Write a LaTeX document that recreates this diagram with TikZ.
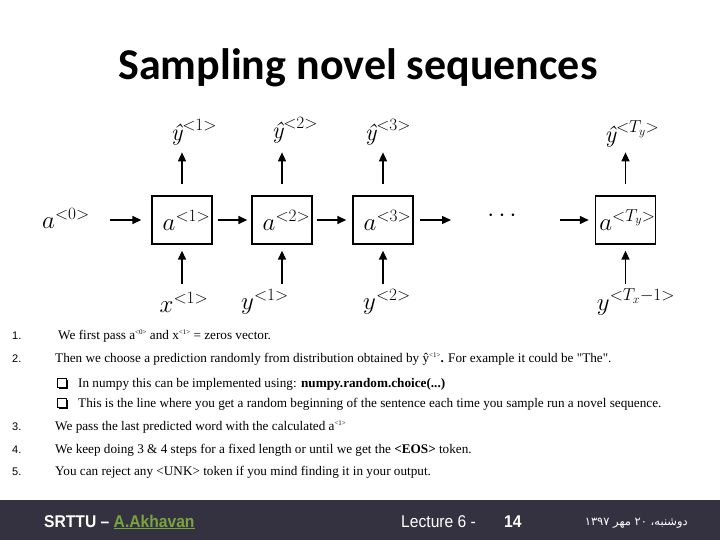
\documentclass[tikz,border=0pt]{standalone}
\usepackage{fontspec}
\setmainfont{Liberation Serif}
\newfontfamily\titlefont{Carlito}
\newfontfamily\footfont[FakeStretch=0.92]{Liberation Sans}
\newfontfamily\numfont{Liberation Sans}
\newfontfamily\lmfont{Latin Modern Roman}
\newfontfamily\arabicfont[Script=Arabic]{DejaVu Sans}
\TeXXeTstate=1
\usetikzlibrary{arrows.meta}
\definecolor{footbg}{RGB}{52,50,64}
\definecolor{akhgreen}{RGB}{120,165,60}
\newcommand\sups[1]{\raisebox{4.5pt}{\fontsize{7}{7}\selectfont #1}}
\newcommand\yhat{\mbox{\lmfont\itshape ŷ}}
\begin{document}
\begin{tikzpicture}[x=1pt,y=-1pt,
  cell/.style={draw, line width=1.3pt, minimum width=60pt, minimum height=48pt, inner sep=0pt, font=\fontsize{24}{28}\selectfont},
  arr/.style={line width=1.4pt, -{Triangle[length=9pt,width=8pt]}},
  lab/.style={inner sep=0pt, font=\fontsize{24}{28}\selectfont},
  txt/.style={anchor=base west, inner sep=0pt, font=\fontsize{13.2}{15}\selectfont},
  num/.style={anchor=base west, inner sep=0pt, font=\numfont\fontsize{11}{13}\selectfont},
  chk/.style={draw, line width=0.8pt, fill=white, minimum size=9pt, inner sep=0pt},
  chksh/.style={fill=black, minimum size=9pt, inner sep=0pt},
  foot/.style={anchor=base west, inner sep=0pt, text=white, font=\footfont\fontsize{17}{20}\selectfont}]
\useasboundingbox (0,0) rectangle (720,540);
\fill[white] (0,0) rectangle (720,540);

% title
\node[inner sep=0pt, font=\titlefont\bfseries\fontsize{44}{50}\selectfont] (title) at (358,68) {Sampling novel sequences};

% diagram
\node[lab] (a0) at (66,218) {$a^{<0>}$};
\node[cell] (b1) at (182,220) {\hspace*{9pt}$a^{<1>}$};
\node[cell] (b2) at (282,220) {\hspace*{9pt}$a^{<2>}$};
\node[cell] (b3) at (383,220) {\hspace*{9pt}$a^{<3>}$};
\node[cell] (bT) at (625.5,220) {\hspace*{4pt}$a^{<T_y>}$};
\node[lab] (dots) at (502,216) {$\cdots$};
\coordinate (c3) at (451,220);
\coordinate (c4) at (560,220);

\draw[arr] ([xshift=20pt]a0.east |- b1.west) -- ([xshift=-10pt]b1.west);
\draw[arr] ([xshift=5pt]b1.east) -- ([xshift=-4pt]b2.west);
\draw[arr] ([xshift=4pt]b2.east) -- ([xshift=-6pt]b3.west);
\draw[arr] ([xshift=6pt]b3.east) -- (c3);
\draw[arr] (c4) -- ([xshift=-6pt]bT.west);

\foreach \b in {b1,b2,b3,bT}{
  \draw[arr] ([yshift=11pt]\b.north) -- ([yshift=43pt]\b.north);
  \draw[arr] ([yshift=-39pt]\b.south) -- ([yshift=-6pt]\b.south);
}

\node[lab] (yh1) at (194,132) {$\yhat^{<1>}$};
\node[lab] (yh2) at (295,130) {$\yhat^{<2>}$};
\node[lab] (yh3) at (388,132) {$\yhat^{<3>}$};
\node[lab] (yhT) at (632,134) {$\yhat^{<T_y>}$};
\node[lab] (x1) at (184,302) {$x^{<1>}$};
\node[lab] (y1) at (265,302) {$y^{<1>}$};
\node[lab] (y2) at (387,302) {$y^{<2>}$};
\node[lab] (yT) at (636,302) {$y^{<T_x-1>}$};

% list
\node[num] (n1) at (12,339) {1.};
\node[txt] (t1) at (58,339) {We first pass a\sups{<0>} and x\sups{<1>} = zeros vector.};
\node[num] (n2) at (12,362) {2.};
\node[txt] (t2) at (55,362) {Then we choose a prediction randomly from distribution obtained by ŷ\sups{<1>}\textbf{.} For example it could be \textquotedbl The\textquotedbl.};
\node[chksh] (q1s) at (63.5,384.5) {};
\node[chk] (q1) at (62,383) {};
\node[txt] (t2a) at (78,387) {In numpy this can be implemented using: \textbf{numpy.random.choice(...)}};
\node[chksh] (q2s) at (63.5,404.5) {};
\node[chk] (q2) at (62,403) {};
\node[txt] (t2b) at (78,407) {This is the line where you get a random beginning of the sentence each time you sample run a novel sequence.};
\node[num] (n3) at (12,430) {3.};
\node[txt] (t3) at (55,430) {We pass the last predicted word with the calculated a\sups{<1>}};
\node[num] (n4) at (12,453) {4.};
\node[txt] (t4) at (55,453) {We keep doing 3 \& 4 steps for a fixed length or until we get the \textbf{<EOS>} token.};
\node[num] (n5) at (12,475) {5.};
\node[txt] (t5) at (55,475) {You can reject any <UNK> token if you mind finding it in your output.};

% footer
\node[fill=footbg, minimum width=720pt, minimum height=40pt, inner sep=0pt, anchor=north west] (bar) at (0,500) {};
\node[foot] (f1) at (44,527) {\bfseries SRTTU – \textcolor{akhgreen}{\underline{A.Akhavan}}};
\node[foot] (f2) at (401,527) {Lecture 6 -};
\node[foot] (f3) at (504,527) {\bfseries 14};
\node[anchor=base east, inner sep=0pt, text=white, font=\arabicfont\fontsize{11.5}{13}\selectfont] (f4) at (688,525) {\beginR دوشنبه، \beginL۲۰\endL{} مهر \beginL۱۳۹۷\endL\endR};
\end{tikzpicture}
\end{document}
